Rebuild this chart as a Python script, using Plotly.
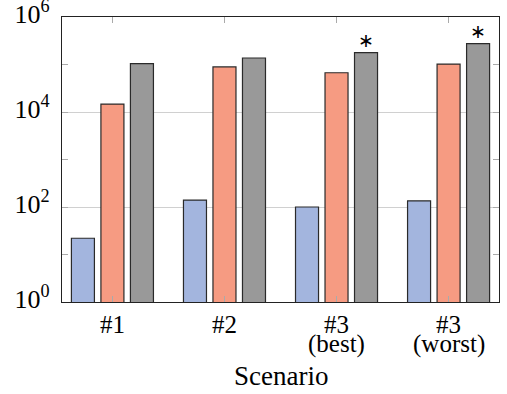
import plotly.graph_objects as go
import math

categories = ["#1", "#2", "#3", "#3"]
subcategories = ["", "", "(best)", "(worst)"]
series_a = [22, 140, 100, 135]
series_b = [14700, 89000, 67000, 102000]
series_c = [104000, 137000, 178000, 275000]
starred = [False, False, True, True]
y_tickvals = [1, 100, 1e4, 1e6]
y_ticktext = ["10<sup>0</sup>", "10<sup>2</sup>", "10<sup>4</sup>", "10<sup>6</sup>"]
axis_title = "Scenario"

colors = ["#a3b5de", "#f69b82", "#999999"]

fig = go.Figure()
for vals, col in zip([series_a, series_b, series_c], colors):
    fig.add_trace(go.Bar(
        x=list(range(len(categories))), y=vals,
        marker=dict(color=col, line=dict(color="#2a2a2a", width=1.2)),
        showlegend=False,
    ))

font = "Liberation Serif"
bargap = 0.21
slot = (1 - bargap) / 3
for i, (s, v) in enumerate(zip(starred, series_c)):
    if s:
        fig.add_annotation(x=i + slot, y=math.log10(v), xref="x", yref="y", text="∗",
                           showarrow=False, yanchor="middle", yshift=12,
                           font=dict(family=font, size=19, color="black"))

for i, sub in enumerate(subcategories):
    if sub:
        fig.add_annotation(x=i, y=0, xref="x", yref="paper", text=sub,
                           showarrow=False, yanchor="middle", yshift=-42,
                           font=dict(family=font, size=25, color="black"))

fig.add_annotation(x=0.5, y=0, xref="paper", yref="paper", text=axis_title,
                   showarrow=False, yanchor="middle", yshift=-74,
                   font=dict(family=font, size=27, color="black"))

fig.update_layout(
    width=507, height=394,
    margin=dict(l=62, r=8, t=17, b=92),
    paper_bgcolor="white", plot_bgcolor="white",
    barmode="group", bargap=bargap, bargroupgap=0.22,
    font=dict(family=font, size=25, color="black"),
    xaxis=dict(
        tickmode="array", tickvals=list(range(len(categories))), ticktext=categories,
        tickfont=dict(family=font, size=25),
        range=[-0.45, 3.45], showline=True, linecolor="#222222", linewidth=1.2, mirror="ticks",
        ticks="inside", ticklen=6, tickcolor="#aaaaaa", tickwidth=1,
        showgrid=False, zeroline=False, automargin=False, ticklabeloverflow="allow",
    ),
    yaxis=dict(
        type="log", range=[0, 6], automargin=False, ticklabeloverflow="allow",
        tickmode="array", tickvals=y_tickvals, ticktext=y_ticktext,
        tickfont=dict(family=font, size=26), ticklabelstandoff=6, ticklabelshift=-3,
        showline=True, linecolor="#222222", linewidth=1.2, mirror="ticks",
        ticks="inside", ticklen=6, tickcolor="#aaaaaa", tickwidth=1,
        showgrid=True, gridcolor="#d0d0d0", gridwidth=1, zeroline=False,
        minor=dict(tickvals=[10, 1000, 1e5], ticks="inside", ticklen=6, tickcolor="#aaaaaa", showgrid=False),
    ),
)

# remove the page's default 8px body margin so the figure sits at the window's corner
fig.write_html("out.html", config={"displayModeBar": False},
               post_script="document.body.style.margin='0px';")
